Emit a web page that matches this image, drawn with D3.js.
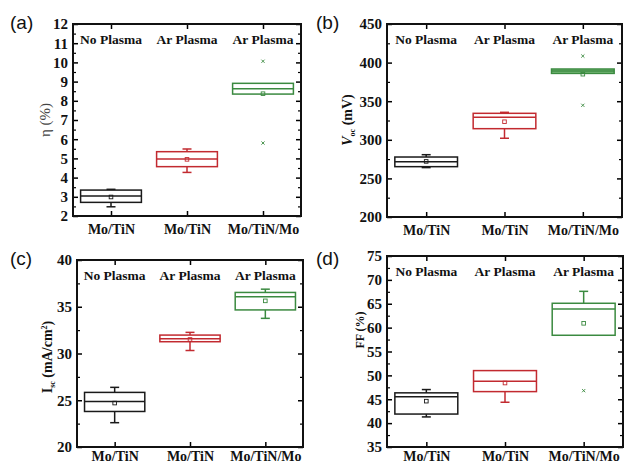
<!DOCTYPE html>
<html>
<head>
<meta charset="utf-8">
<script src="https://cdn.jsdelivr.net/npm/d3@7"></script>
<style>
  body { margin: 0; background: #fff; }
  svg { display: block; }
  .tick text { font-family: "Liberation Serif", serif; font-weight: bold; }
</style>
</head>
<body>
<div id="chart"></div>
<script>
// categories shared by all four panels
var substrates = ["Mo/TiN", "Mo/TiN", "Mo/TiN/Mo"];
var treatments = ["No Plasma", "Ar Plasma", "Ar Plasma"];

// box stats per group: [whisker low, q1, median, q3, whisker high, mean]
var etaStats = [
  [2.48, 2.71, 3.04, 3.35, 3.39, 2.99],
  [4.27, 4.57, 4.97, 5.35, 5.49, 4.95],
  [8.35, 8.35, 8.63, 8.91, 8.91, 8.37]
];
var etaOutliers = [[], [], [10.06, 5.8]];

var vocStats = [
  [264, 265.2, 271.7, 277.7, 280.7, 272],
  [302, 314.4, 329.2, 334.3, 335.6, 323.4],
  [386, 386, 389, 391.7, 391.7, 385]
];
var vocOutliers = [[], [], [408.5, 344.7]];

var jscStats = [
  [22.6, 23.8, 24.87, 25.84, 26.38, 24.7],
  [30.32, 31.26, 31.58, 31.97, 32.26, 31.5],
  [33.76, 34.66, 36.06, 36.53, 36.88, 35.63]
];
var jscOutliers = [[], [], []];

var ffStats = [
  [41.3, 41.9, 45.5, 46.34, 47.03, 44.6],
  [44.37, 46.6, 48.77, 51.0, 51.0, 48.4],
  [58.4, 58.4, 63.9, 65.1, 67.6, 60.9]
];
var ffOutliers = [[], [], [46.8]];

// y axis ranges and tick steps
var etaTicks = [2, 12, 1];
var vocTicks = [200, 450, 50];
var jscTicks = [20, 40, 5];
var ffTicks = [35, 75, 5];

var colors = ["#1a1a1a", "#c22a30", "#3b8a40"];

var svg = d3.select("#chart")
  .append("svg")
  .attr("width", 627)
  .attr("height", 465);

// panel frames (page pixels)
var panels = [
  { tag: "(a)", stats: etaStats, outliers: etaOutliers, ticks: etaTicks,
    left: 73, top: 24, right: 301, bottom: 216, tagX: 10, tagY: 29, pad: 8,
    titleX: 45, titleY: 120, title: "eta", fillLast: false },
  { tag: "(b)", stats: vocStats, outliers: vocOutliers, ticks: vocTicks,
    left: 387, top: 24, right: 622, bottom: 217, tagX: 316, tagY: 29, pad: 8,
    titleX: 347, titleY: 120, title: "voc", fillLast: true },
  { tag: "(c)", stats: jscStats, outliers: jscOutliers, ticks: jscTicks,
    left: 77, top: 260, right: 303, bottom: 447, tagX: 10, tagY: 265, pad: 4,
    titleX: 47, titleY: 357, title: "jsc", fillLast: false },
  { tag: "(d)", stats: ffStats, outliers: ffOutliers, ticks: ffTicks,
    left: 387, top: 256, right: 623, bottom: 447, tagX: 316, tagY: 265, pad: 4,
    titleX: 360, titleY: 330, title: "ff", fillLast: false }
];

panels.forEach(function(p) {
  var g = svg.append("g");

  var x = d3.scalePoint()
    .domain([0, 1, 2])
    .range([p.left, p.right])
    .padding(0.5);

  var y = d3.scaleLinear()
    .domain([p.ticks[0], p.ticks[1]])
    .range([p.bottom, p.top]);

  var major = d3.range(p.ticks[0], p.ticks[1] + 1e-9, p.ticks[2]);
  var minor = d3.range(p.ticks[0] + p.ticks[2] / 2, p.ticks[1], p.ticks[2]);

  // left axis with labels, ticks pointing inward
  g.append("g")
    .attr("transform", `translate(${p.left},0)`)
    .call(d3.axisLeft(y).tickValues(major).tickSize(-5).tickPadding(5).tickFormat(d3.format("d")))
    .call(s => s.select(".domain").remove())
    .call(s => s.selectAll("line").attr("stroke-width", 1.5))
    .call(s => s.selectAll("text").attr("font-size", "15px").attr("fill", "#111"));
  g.append("g")
    .attr("transform", `translate(${p.left},0)`)
    .call(d3.axisLeft(y).tickValues(minor).tickSize(-3).tickFormat(""))
    .call(s => s.select(".domain").remove())
    .call(s => s.selectAll("line").attr("stroke-width", 1.2));

  // right axis ticks
  g.append("g")
    .attr("transform", `translate(${p.right},0)`)
    .call(d3.axisRight(y).tickValues(major).tickSize(-5).tickFormat(""))
    .call(s => s.select(".domain").remove())
    .call(s => s.selectAll("line").attr("stroke-width", 1.5));
  g.append("g")
    .attr("transform", `translate(${p.right},0)`)
    .call(d3.axisRight(y).tickValues(minor).tickSize(-3).tickFormat(""))
    .call(s => s.select(".domain").remove())
    .call(s => s.selectAll("line").attr("stroke-width", 1.2));

  // bottom axis with substrate labels
  g.append("g")
    .attr("transform", `translate(0,${p.bottom})`)
    .call(d3.axisBottom(x).tickSize(-5).tickPadding(p.pad).tickFormat(i => substrates[i]))
    .call(s => s.select(".domain").remove())
    .call(s => s.selectAll("line").attr("stroke-width", 1.5))
    .call(s => s.selectAll("text").attr("font-size", "14px").attr("fill", "#111"));

  // top axis ticks
  g.append("g")
    .attr("transform", `translate(0,${p.top})`)
    .call(d3.axisTop(x).tickSize(-5).tickFormat(""))
    .call(s => s.select(".domain").remove())
    .call(s => s.selectAll("line").attr("stroke-width", 1.5));

  // frame
  g.append("rect")
    .attr("x", p.left)
    .attr("y", p.top)
    .attr("width", p.right - p.left)
    .attr("height", p.bottom - p.top)
    .attr("fill", "none")
    .attr("stroke", "#111")
    .attr("stroke-width", 2);

  // treatment labels at top inside
  g.selectAll(".treat")
    .data(treatments)
    .enter()
    .append("text")
    .attr("x", (d, i) => x(i))
    .attr("y", p.top + 20)
    .attr("text-anchor", "middle")
    .attr("font-family", "Liberation Serif, serif")
    .attr("font-weight", "bold")
    .attr("font-size", "13.5px")
    .attr("fill", "#111")
    .text(d => d);

  var boxW = x.step() * 0.8;
  var capW = 9;

  var boxes = g.selectAll(".box")
    .data(p.stats)
    .enter()
    .append("g")
    .attr("stroke", (d, i) => colors[i])
    .attr("fill", "none")
    .attr("stroke-width", 1.5);

  // whiskers, box, median, mean and outliers
  boxes.each(function(d, i) {
    var b = d3.select(this);
    var cx = x(i);
    if (d[0] < d[1]) {
      b.append("line").attr("x1", cx).attr("x2", cx).attr("y1", y(d[1])).attr("y2", y(d[0]));
      b.append("line").attr("x1", cx - capW / 2).attr("x2", cx + capW / 2).attr("y1", y(d[0])).attr("y2", y(d[0]));
    }
    if (d[4] > d[3]) {
      b.append("line").attr("x1", cx).attr("x2", cx).attr("y1", y(d[3])).attr("y2", y(d[4]));
      b.append("line").attr("x1", cx - capW / 2).attr("x2", cx + capW / 2).attr("y1", y(d[4])).attr("y2", y(d[4]));
    }
    b.append("rect")
      .attr("x", cx - boxW / 2)
      .attr("y", y(d[3]))
      .attr("width", boxW)
      .attr("height", y(d[1]) - y(d[3]))
      .attr("fill", (p.fillLast && i === 2) ? "#7fc07f" : "none");
    b.append("line")
      .attr("x1", cx - boxW / 2).attr("x2", cx + boxW / 2)
      .attr("y1", y(d[2])).attr("y2", y(d[2]));
    b.append("rect")
      .attr("x", cx - 1.8).attr("y", y(d[5]) - 1.8)
      .attr("width", 3.6).attr("height", 3.6)
      .attr("stroke-width", 0.9);
    p.outliers[i].forEach(function(v) {
      b.append("path")
        .attr("d", `M${cx - 1.6},${y(v) - 1.6}L${cx + 1.6},${y(v) + 1.6}M${cx - 1.6},${y(v) + 1.6}L${cx + 1.6},${y(v) - 1.6}`)
        .attr("stroke-width", 0.9);
    });
  });

  // panel tag
  svg.append("text")
    .attr("x", p.tagX)
    .attr("y", p.tagY)
    .attr("font-family", "Liberation Sans, Arial, sans-serif")
    .attr("font-size", "19px")
    .attr("fill", "#111")
    .text(p.tag);

  // y axis title
  var t = svg.append("text")
    .attr("transform", `translate(${p.titleX},${p.titleY}) rotate(-90)`)
    .attr("text-anchor", "middle")
    .attr("dy", "0.35em")
    .attr("font-family", "Liberation Serif, serif")
    .attr("font-weight", "bold")
    .attr("font-size", "13px")
    .attr("fill", "#111");

  if (p.title === "eta") {
    t.attr("font-weight", "normal").attr("fill", "#444").attr("font-size", "15px").text("η (%)");
  } else if (p.title === "voc") {
    t.attr("font-size", "14px");
    t.append("tspan").attr("font-style", "italic").text("V");
    t.append("tspan").attr("font-size", "8px").attr("dy", "3").text("oc");
    t.append("tspan").attr("dy", "-3").text(" (mV)");
  } else if (p.title === "jsc") {
    t.attr("font-size", "14px");
    t.append("tspan").text("I");
    t.append("tspan").attr("font-size", "8px").attr("dy", "3").text("sc");
    t.append("tspan").attr("dy", "-3").text(" (mA/cm");
    t.append("tspan").attr("font-size", "8px").attr("dy", "-5").text("2");
    t.append("tspan").attr("dy", "5").text(")");
  } else {
    t.attr("font-size", "12px").text("FF (%)");
  }
});
</script>
</body>
</html>
